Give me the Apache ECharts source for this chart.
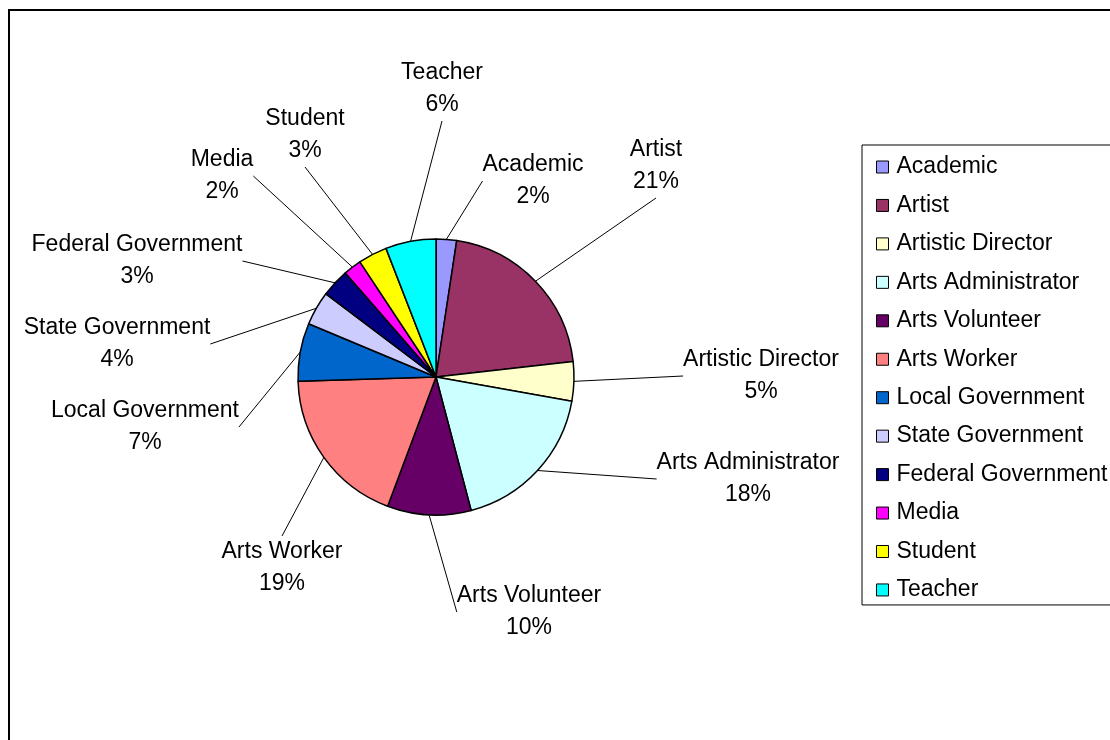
<!DOCTYPE html>
<html>
<head>
<meta charset="utf-8">
<script src="https://cdn.jsdelivr.net/npm/echarts@6/dist/echarts.min.js"></script>
<style>
  html, body { margin: 0; padding: 0; background: #fff; }
  #chart { width: 1110px; height: 740px; }
</style>
</head>
<body>
<div id="chart"></div>
<script>
// ---- Data (percent shares) ----
const categories = ['Academic', 'Artist', 'Artistic Director', 'Arts Administrator', 'Arts Volunteer',
  'Arts Worker', 'Local Government', 'State Government', 'Federal Government', 'Media', 'Student', 'Teacher'];
const shares = [2.4, 20.8, 4.6, 18.1, 9.8, 18.8, 6.8, 4.0, 3.3, 2.1, 3.4, 5.9];
const colors = ['#9999FF', '#993366', '#FFFFCC', '#CCFFFF', '#660066', '#FF8080',
  '#0066CC', '#CCCCFF', '#000080', '#FF00FF', '#FFFF00', '#00FFFF'];

// ---- Layout (label text centres, relative to the pie centre) ----
const pieCenter = [436, 377];
const labelOffsets = [
  [97, -196], [220, -211], [325, -1], [312, 102], [93, 235], [-154, 191],
  [-291, 50], [-319, -33], [-299, -116], [-214, -201], [-131, -242], [6, -288]
];

const font = '"Liberation Sans", Arial, sans-serif';

const chart = echarts.init(document.getElementById('chart'), null, { renderer: 'canvas' });
chart.setOption({
  animation: false,
  color: colors,
  graphic: [{
    type: 'rect',
    silent: true,
    z: -1,
    shape: { x: 9, y: 10, width: 1200, height: 800 },
    style: { fill: 'none', stroke: '#000', lineWidth: 2 }
  }],
  legend: {
    orient: 'vertical',
    left: 862,
    top: 145,
    padding: [9, 20, 2, 14],
    itemWidth: 12,
    itemHeight: 12,
    itemGap: 12.45,
    icon: 'rect',
    borderColor: '#000',
    borderWidth: 1,
    itemStyle: { borderColor: '#000', borderWidth: 1 },
    textStyle: { fontFamily: font, fontSize: 23, color: '#000', lineHeight: 26, padding: [0, 0, 0, 3] },
    data: categories
  },
  series: [{
    type: 'pie',
    center: pieCenter,
    radius: 138,
    startAngle: 90,
    clockwise: true,
    avoidLabelOverlap: false,
    itemStyle: { borderColor: '#000', borderWidth: 1.5 },
    emphasis: { disabled: true },
    label: {
      show: true,
      position: 'outside',
      fontFamily: font,
      fontSize: 23,
      lineHeight: 32,
      color: '#000',
      align: 'center',
      formatter: p => p.name + '\n' + Math.round(p.percent) + '%'
    },
    labelLine: {
      show: true,
      length: 10,
      length2: 0,
      lineStyle: { color: '#000', width: 1 }
    },
    labelLayout: params => {
      const o = labelOffsets[params.dataIndex];
      return {
        x: pieCenter[0] + o[0],
        y: pieCenter[1] + o[1],
        align: 'center',
        verticalAlign: 'middle'
      };
    },
    data: categories.map((c, i) => ({ name: c, value: shares[i] }))
  }]
});
</script>
</body>
</html>
